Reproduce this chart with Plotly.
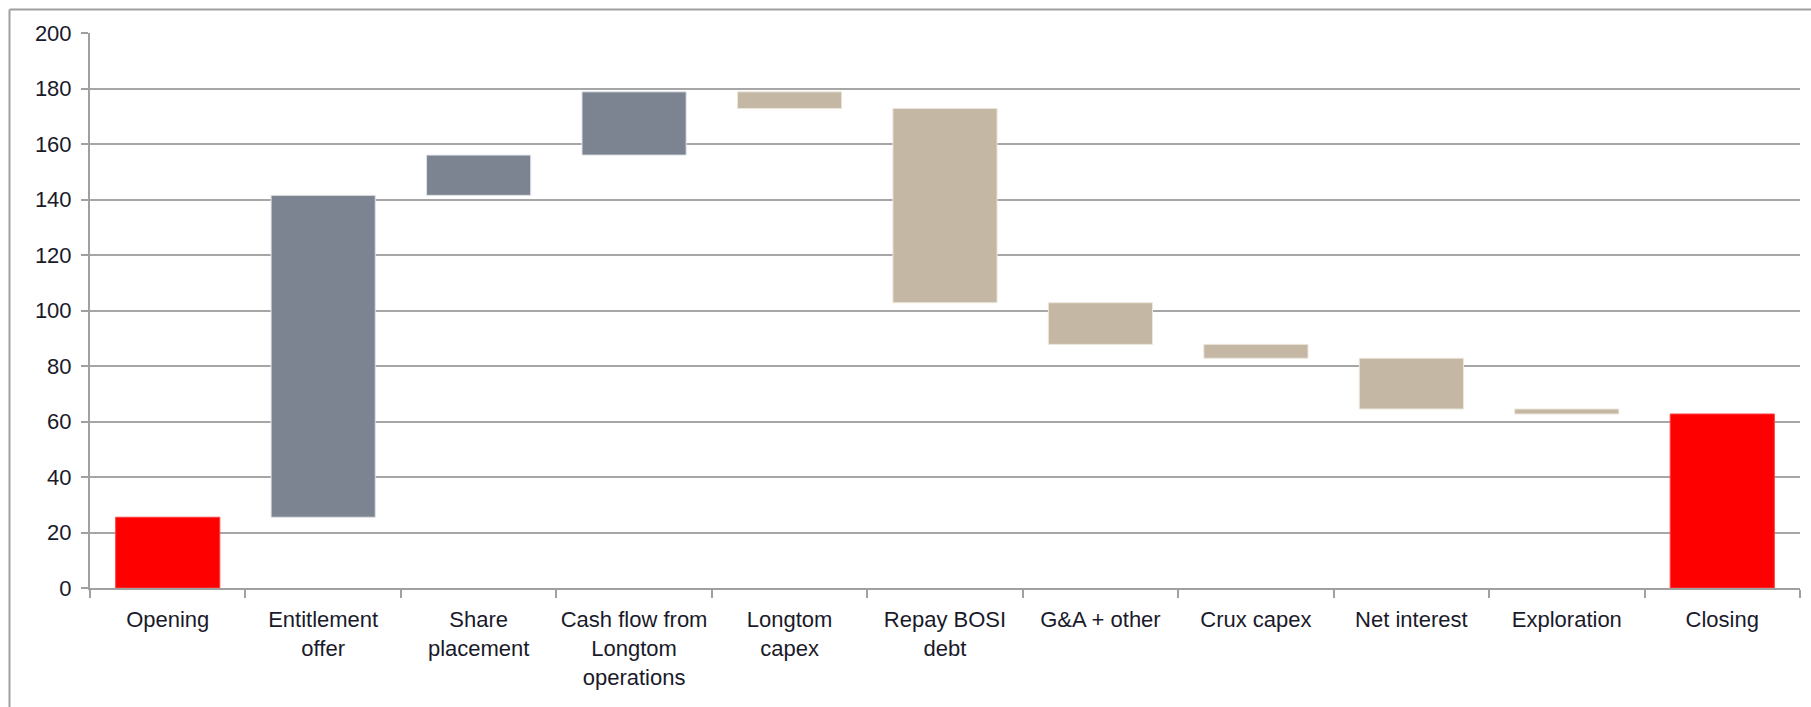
import plotly.graph_objects as go

categories = ["Opening", "Entitlement<br>offer", "Share<br>placement",
              "Cash flow from<br>Longtom<br>operations", "Longtom<br>capex",
              "Repay BOSI<br>debt", "G&A + other", "Crux capex",
              "Net interest", "Exploration", "Closing"]
values = [25.5, 116.0, 14.5, 22.8, -6.0, -70.0, -15.0, -5.0, -18.3, -1.8, 0]
measures = ["absolute", "relative", "relative", "relative", "relative",
            "relative", "relative", "relative", "relative", "relative", "total"]
y_ticks = [0, 20, 40, 60, 80, 100, 120, 140, 160, 180, 200]

W, H = 1811, 707
L, R, T, B = 90, 11, 33, 119

fig = go.Figure(go.Waterfall(
    x=categories, y=values, measure=measures,
    increasing=dict(marker=dict(color="#7b8490", line=dict(color="#dfe2e6", width=1))),
    decreasing=dict(marker=dict(color="#c4b8a4", line=dict(color="#ece6dc", width=1))),
    totals=dict(marker=dict(color="#ff0000", line=dict(color="#ff4040", width=1))),
    connector=dict(visible=False),
    hoverinfo="x+y",
))

pw = W - L - R
ph = H - T - B
def px_x(px):
    return (px - L) / pw
def px_y(py):
    return (H - B - py) / ph

fig.update_layout(
    width=W, height=H,
    margin=dict(l=L, r=R, t=T, b=B, pad=0),
    paper_bgcolor="white", plot_bgcolor="white",
    showlegend=False,
    waterfallgap=0.33,
    font=dict(family="Liberation Sans, Arial, sans-serif", size=22, color="#1a1a2a"),
    xaxis=dict(showline=True, linecolor="#a0a0a0", linewidth=2,
               ticks="outside", tickson="boundaries", ticklen=8, tickcolor="#a0a0a0",
               tickwidth=2, showgrid=False, ticklabelstandoff=11,
               tickangle=0, automargin=False,
               tickfont=dict(size=22)),
    yaxis=dict(range=[0, 200], tickvals=y_ticks, showline=True, linecolor="#a0a0a0",
               linewidth=2, ticks="outside", ticklen=7, tickcolor="#a0a0a0", tickwidth=2,
               showgrid=True, gridcolor="#a6a6a6", gridwidth=2, zeroline=False,
               automargin=False,
               tickfont=dict(size=22), ticklabelstandoff=5),
    shapes=[
        dict(type="line", xref="paper", yref="paper",
             x0=px_x(9.5), x1=px_x(9.5), y0=px_y(720), y1=px_y(9.5),
             line=dict(color="#a0a0a0", width=2)),
        dict(type="line", xref="paper", yref="paper",
             x0=px_x(9.5), x1=px_x(1820), y0=px_y(9.5), y1=px_y(9.5),
             line=dict(color="#a0a0a0", width=2)),
    ],
)

fig.write_html("out.html")
